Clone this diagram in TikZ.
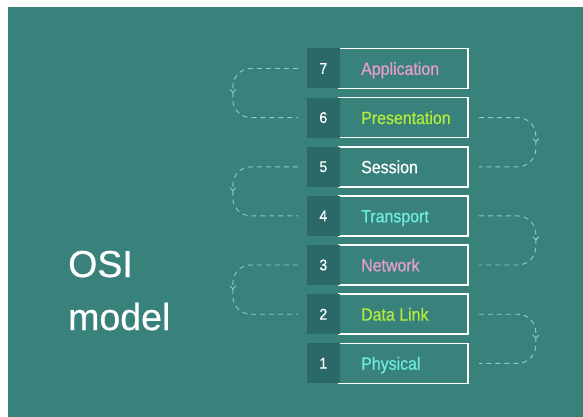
\documentclass[tikz,border=0pt]{standalone}
\usepackage{fontspec}
\setmainfont{Liberation Sans}[FakeStretch=0.9,FakeBold=0.6]
\newfontfamily\titlefont{Liberation Sans}[FakeBold=0.6]
\usetikzlibrary{arrows.meta,decorations.markings}

\definecolor{bgteal}{HTML}{39827B}
\definecolor{numdark}{HTML}{2B6968}
\definecolor{dashteal}{HTML}{8FCCC2}
\definecolor{laypink}{HTML}{E59DC9}
\definecolor{laylime}{HTML}{B3EA3E}
\definecolor{laycyan}{HTML}{70EBDF}

\tikzset{
  numbox/.style={fill=numdark, minimum width=32.5pt, minimum height=40pt, inner sep=0pt,
    text=white, font=\fontsize{15.5}{16}\selectfont},
  laybox/.style={draw=white, line width=1.6pt, fill=bgteal, minimum width=129pt,
    minimum height=40pt, inner sep=0pt},
  laytext/.style={anchor=base west, inner sep=0pt, font=\fontsize{17.7}{18}\selectfont},
  titletext/.style={anchor=base west, inner sep=0pt, text=white, font=\titlefont\fontsize{37.5}{40}\selectfont},
  loopline/.style={draw=dashteal, line width=0.9pt, dash pattern=on 5pt off 4pt,
    rounded corners=18pt,
    decoration={markings, mark=at position 0.5 with {\arrow[solid]{Straight Barb[length=3pt,width=6pt]}}},
    postaction={decorate}},
}

\begin{document}
\begin{tikzpicture}[x=1pt, y=-1pt]
  % background
  \fill[white] (0,0) rectangle (583,417);
  \fill[bgteal] (8,7) rectangle (583,417);

  % title
  \node[titletext] (osi) at (68,277) {OSI};
  \node[titletext] (model) at (68,330) {model};

  % layer boxes
  \node[laybox] (lay7) at (403.5,68.5) {};
  \node[laybox] (lay6) at (403.5,117.6) {};
  \node[laybox] (lay5) at (403.5,166.8) {};
  \node[laybox] (lay4) at (403.5,215.9) {};
  \node[laybox] (lay3) at (403.5,265.0) {};
  \node[laybox] (lay2) at (403.5,314.2) {};
  \node[laybox] (lay1) at (403.5,363.3) {};

  % numbers
  \node[numbox] (num7) at (323.3,68.5) {7};
  \node[numbox] (num6) at (323.3,117.6) {6};
  \node[numbox] (num5) at (323.3,166.8) {5};
  \node[numbox] (num4) at (323.3,215.9) {4};
  \node[numbox] (num3) at (323.3,265.0) {3};
  \node[numbox] (num2) at (323.3,314.2) {2};
  \node[numbox] (num1) at (323.3,363.3) {1};

  % layer names
  \node[laytext, text=laypink] (txt7) at (361,74.9) {Application};
  \node[laytext, text=laylime] (txt6) at (361,124.0) {Presentation};
  \node[laytext, text=white] (txt5) at (361,173.2) {Session};
  \node[laytext, text=laycyan] (txt4) at (361,222.3) {Transport};
  \node[laytext, text=laypink] (txt3) at (361,271.4) {Network};
  \node[laytext, text=laylime] (txt2) at (361,320.6) {Data Link};
  \node[laytext, text=laycyan] (txt1) at (361,369.7) {Physical};

  % loops on the left
  \draw[loopline] ([xshift=-9pt]num7.west) -- ++(-65,0) -- ([xshift=-74pt]num6.west) -- ([xshift=-9pt]num6.west);
  \draw[loopline] ([xshift=-9pt]num5.west) -- ++(-65,0) -- ([xshift=-74pt]num4.west) -- ([xshift=-9pt]num4.west);
  \draw[loopline] ([xshift=-9pt]num3.west) -- ++(-65,0) -- ([xshift=-74pt]num2.west) -- ([xshift=-9pt]num2.west);

  % loops on the right
  \draw[loopline] ([xshift=10pt]lay6.east) -- ++(57,0) -- ([xshift=67pt]lay5.east) -- ([xshift=10pt]lay5.east);
  \draw[loopline] ([xshift=10pt]lay4.east) -- ++(57,0) -- ([xshift=67pt]lay3.east) -- ([xshift=10pt]lay3.east);
  \draw[loopline] ([xshift=10pt]lay2.east) -- ++(57,0) -- ([xshift=67pt]lay1.east) -- ([xshift=10pt]lay1.east);
\end{tikzpicture}
\end{document}
